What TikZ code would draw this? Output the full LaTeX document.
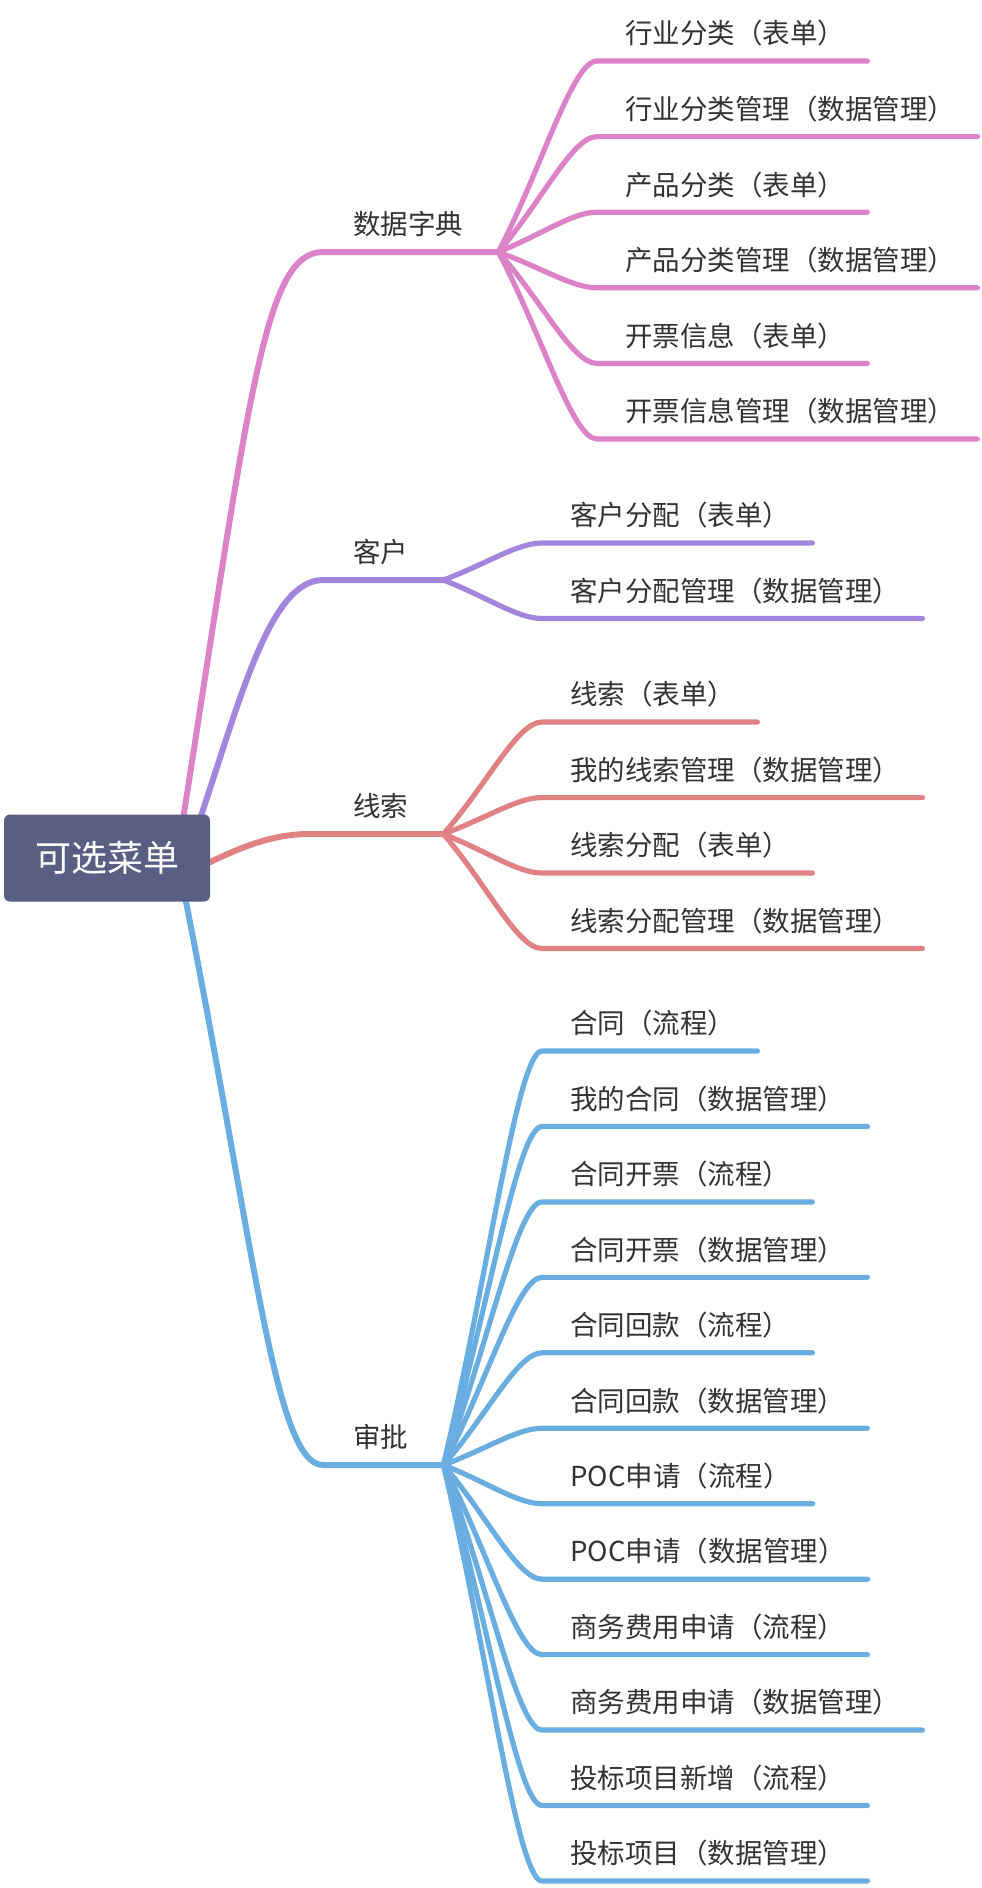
\documentclass[tikz,border=0pt]{standalone}
\usepackage{fontspec}
\setmainfont{Noto Sans CJK SC}
\usetikzlibrary{calc, backgrounds}
\definecolor{rootfill}{RGB}{88,95,130}
\definecolor{textgray}{RGB}{51,51,51}
\definecolor{dictpink}{RGB}{220,130,200}
\definecolor{custpurple}{RGB}{163,133,221}
\definecolor{leadred}{RGB}{224,130,132}
\definecolor{apprblue}{RGB}{106,174,225}
\tikzstyle{root} = [fill=rootfill, rounded corners=6pt, text=white, minimum width=206pt, minimum height=87pt, font=\fontsize{36}{40}\selectfont]
\tikzstyle{leaf} = [anchor=south west, inner sep=0pt, text height=22pt, text depth=17pt, text=textgray, font=\fontsize{27.5}{33}\selectfont]
\tikzstyle{wire} = [line width=5.2pt, line cap=round]
\tikzstyle{trunk} = [line width=6pt, line cap=round]
\tikzstyle{fan} = [to path={let \p1=(\tikztostart), \p2=(\tikztotarget) in
  .. controls ({\x1+0.45*(\x2-\x1)},{\y1+0.45*(\y2-\y1)}) and ({\x1+0.75*(\x2-\x1)},\y2) .. (\tikztotarget)}]

\begin{document}
\begin{tikzpicture}[x=1pt, y=-1pt]
    \useasboundingbox (0,0) rectangle (982,1888);
    \node[root] (menu) at (107,858) {可选菜单};

    % branch labels and their junctions
    \node[leaf] (dict) at (353,252) {数据字典};
    \node[leaf] (cust) at (353,580) {客户};
    \node[leaf] (lead) at (353,834) {线索};
    \node[leaf] (appr) at (353,1465) {审批};
    \coordinate (jdict) at ([xshift=35pt]dict.south east);
    \coordinate (jcust) at ([xshift=35pt]cust.south east);
    \coordinate (jlead) at ([xshift=35pt]lead.south east);
    \coordinate (jappr) at ([xshift=35pt]appr.south east);

    \begin{scope}[on background layer]
    \draw[trunk, dictpink] ([xshift=-27pt,yshift=-4pt]menu.north east) .. controls (250,390) and (265,252) .. ([xshift=-30pt]dict.south west) -- (jdict);
    \draw[trunk, custpurple] ([xshift=-10pt,yshift=-4pt]menu.north east) .. controls (240,700) and (270,580) .. ([xshift=-30pt]cust.south west) -- (jcust);
    \draw[trunk, leadred] ([xshift=-4pt,yshift=-6pt]menu.east) .. controls (245,845) and (275,834) .. ([xshift=-43pt]lead.south west) -- (jlead);
    \draw[trunk, apprblue] ([xshift=-25pt,yshift=4pt]menu.south east) .. controls (255,1250) and (275,1465) .. ([xshift=-30pt]appr.south west) -- (jappr);
    \end{scope}

    % 数据字典
    \foreach \txt [count=\i] in {行业分类（表单）, 行业分类管理（数据管理）, 产品分类（表单）, 产品分类管理（数据管理）, 开票信息（表单）, 开票信息管理（数据管理）} {
        \node[leaf] (d\i) at (625,{61+75.6*(\i-1)}) {\txt};
        \draw[wire, dictpink] (jdict) to[fan] ([xshift=-28pt]d\i.south west) -- ([xshift=22pt]d\i.south east);
    }
    % 客户
    \foreach \txt [count=\i] in {客户分配（表单）, 客户分配管理（数据管理）} {
        \node[leaf] (c\i) at (570,{543+75.5*(\i-1)}) {\txt};
        \draw[wire, custpurple] (jcust) to[fan] ([xshift=-28pt]c\i.south west) -- ([xshift=22pt]c\i.south east);
    }
    % 线索
    \foreach \txt [count=\i] in {线索（表单）, 我的线索管理（数据管理）, 线索分配（表单）, 线索分配管理（数据管理）} {
        \node[leaf] (l\i) at (570,{722+75.5*(\i-1)}) {\txt};
        \draw[wire, leadred] (jlead) to[fan] ([xshift=-28pt]l\i.south west) -- ([xshift=22pt]l\i.south east);
    }
    % 审批
    \foreach \txt [count=\i] in {合同（流程）, 我的合同（数据管理）, 合同开票（流程）, 合同开票（数据管理）, 合同回款（流程）, 合同回款（数据管理）, POC申请（流程）, POC申请（数据管理）, 商务费用申请（流程）, 商务费用申请（数据管理）, 投标项目新增（流程）, 投标项目（数据管理）} {
        \node[leaf] (a\i) at (570,{1051+75.45*(\i-1)}) {\txt};
        \draw[wire, apprblue] (jappr) to[fan] ([xshift=-28pt]a\i.south west) -- ([xshift=22pt]a\i.south east);
    }
\end{tikzpicture}
\end{document}
